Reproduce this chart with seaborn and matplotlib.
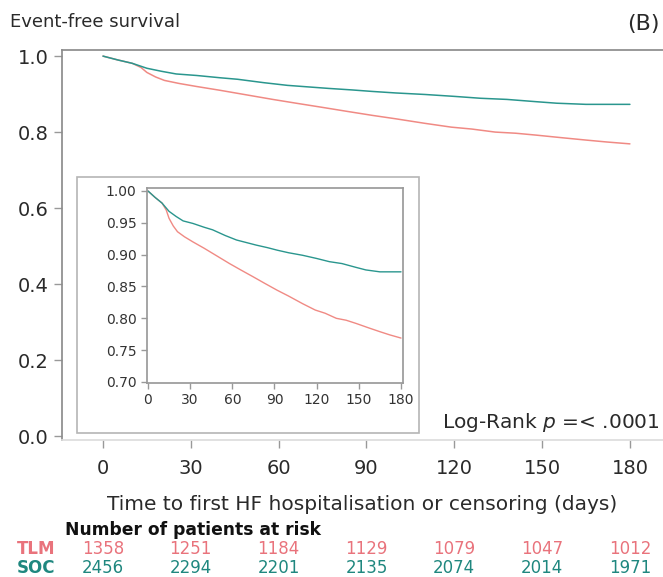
import numpy as np
import pandas as pd
import seaborn as sns
import matplotlib.pyplot as plt
from matplotlib.patches import Rectangle
import matplotlib.transforms as mtransforms

# Kaplan-Meier estimates
tlm_days = [0, 5, 10, 13, 15, 18, 21, 26, 32, 40, 46, 52, 58, 66, 75, 83, 92,
            100, 110, 119, 126, 134, 141, 148, 157, 165, 172, 180]
tlm_surv = [1.000, 0.990, 0.981, 0.970, 0.957, 0.945, 0.936, 0.928, 0.920,
            0.910, 0.902, 0.894, 0.886, 0.876, 0.865, 0.855, 0.844, 0.835,
            0.823, 0.813, 0.808, 0.800, 0.797, 0.792, 0.785, 0.779, 0.774, 0.769]
soc_days = [0, 5, 10, 15, 20, 25, 32, 40, 46, 55, 63, 70, 77, 85, 92, 100,
            110, 120, 129, 138, 148, 155, 165, 180]
soc_surv = [1.000, 0.990, 0.981, 0.968, 0.960, 0.953, 0.949, 0.943, 0.939,
            0.930, 0.923, 0.919, 0.915, 0.911, 0.907, 0.903, 0.899, 0.894,
            0.889, 0.886, 0.880, 0.876, 0.873, 0.873]

risk_days = [0, 30, 60, 90, 120, 150, 180]
tlm_risk = [1358, 1251, 1184, 1129, 1079, 1047, 1012]
soc_risk = [2456, 2294, 2201, 2135, 2074, 2014, 1971]

tlm_col = '#f08a84'
soc_col = '#2a968e'
tlm_txt = '#e9737c'
soc_txt = '#1f877f'

df = pd.concat([
    pd.DataFrame({'day': tlm_days, 'surv': tlm_surv, 'arm': 'TLM'}),
    pd.DataFrame({'day': soc_days, 'surv': soc_surv, 'arm': 'SOC'}),
])
pal = {'TLM': tlm_col, 'SOC': soc_col}

sns.set_theme(style='ticks')
plt.rcParams['font.family'] = ['DejaVu Sans']

fig = plt.figure(figsize=(6.63, 5.77), dpi=100)
ax = fig.add_axes([0.0935, 0.2374, 0.9065, 0.6759])
sns.lineplot(data=df, x='day', y='surv', hue='arm', palette=pal,
             legend=False, linewidth=1.1, ax=ax)
ax.set_xlim(-14, 191.3)
ax.set_ylim(-0.0105, 1.016)
ax.set_xticks(risk_days)
ax.set_yticks([0.0, 0.2, 0.4, 0.6, 0.8, 1.0])
ax.set_yticklabels(['0.0', '0.2', '0.4', '0.6', '0.8', '1.0'])
ax.tick_params(axis='both', labelsize=14, colors='#999999',
               labelcolor='#2a2a2a', width=1, length=6)
ax.tick_params(axis='x', pad=8)
ax.set_xlabel('Time to first HF hospitalisation or censoring (days)',
              fontsize=14.5, color='#2a2a2a', labelpad=12)
ax.set_ylabel('')
for s in ['left', 'top']:
    ax.spines[s].set_color('#8c8c8c')
ax.spines['bottom'].set_color('#dddddd')
ax.spines['right'].set_visible(False)

fig.text(10 / 663, 1 - 22 / 577, 'Event-free survival', fontsize=13,
         va='center', ha='left', color='#2a2a2a')
fig.text(660 / 663, 1 - 24 / 577, '(B)', fontsize=16, va='center',
         ha='right', color='#2a2a2a')
fig.text(660 / 663, 1 - 422 / 577, 'Log-Rank $p$ =< .0001', fontsize=14.5,
         va='center', ha='right', color='#2a2a2a')

# inset frame and zoomed curves
fig.add_artist(Rectangle((77 / 663, 144 / 577), 342 / 663, 256 / 577,
                         transform=fig.transFigure, facecolor='none',
                         edgecolor='#b5b5b5', linewidth=1.2))
axi = fig.add_axes([0.2217, 0.3362, 0.3861, 0.3380])
sns.lineplot(data=df, x='day', y='surv', hue='arm', palette=pal,
             legend=False, linewidth=1.0, ax=axi)
axi.set_xlim(-0.7, 181.4)
axi.set_ylim(0.6984, 1.0047)
axi.set_xticks(risk_days)
axi.set_yticks([0.70, 0.75, 0.80, 0.85, 0.90, 0.95, 1.00])
axi.set_yticklabels(['0.70', '0.75', '0.80', '0.85', '0.90', '0.95', '1.00'])
axi.tick_params(axis='both', labelsize=10, colors='#999999',
                labelcolor='#333333', width=1, length=4)
axi.set_xlabel('')
axi.set_ylabel('')
for s in axi.spines.values():
    s.set_color('#9a9a9a')

# number at risk table
blend = mtransforms.blended_transform_factory(ax.transData, fig.transFigure)
fig.text(65 / 663, 1 - 530 / 577, 'Number of patients at risk', fontsize=12.3,
         fontweight='bold', va='center', ha='left', color='#111111')
fig.text(55 / 663, 1 - 549 / 577, 'TLM', fontsize=12, fontweight='bold',
         va='center', ha='right', color=tlm_txt)
fig.text(55 / 663, 1 - 568 / 577, 'SOC', fontsize=12, fontweight='bold',
         va='center', ha='right', color=soc_txt)
for d, a, b in zip(risk_days, tlm_risk, soc_risk):
    ax.text(d, 1 - 549 / 577, str(a), transform=blend, fontsize=12,
            ha='center', va='center', color=tlm_txt)
    ax.text(d, 1 - 568 / 577, str(b), transform=blend, fontsize=12,
            ha='center', va='center', color=soc_txt)

fig.savefig('out.png', dpi=100)
